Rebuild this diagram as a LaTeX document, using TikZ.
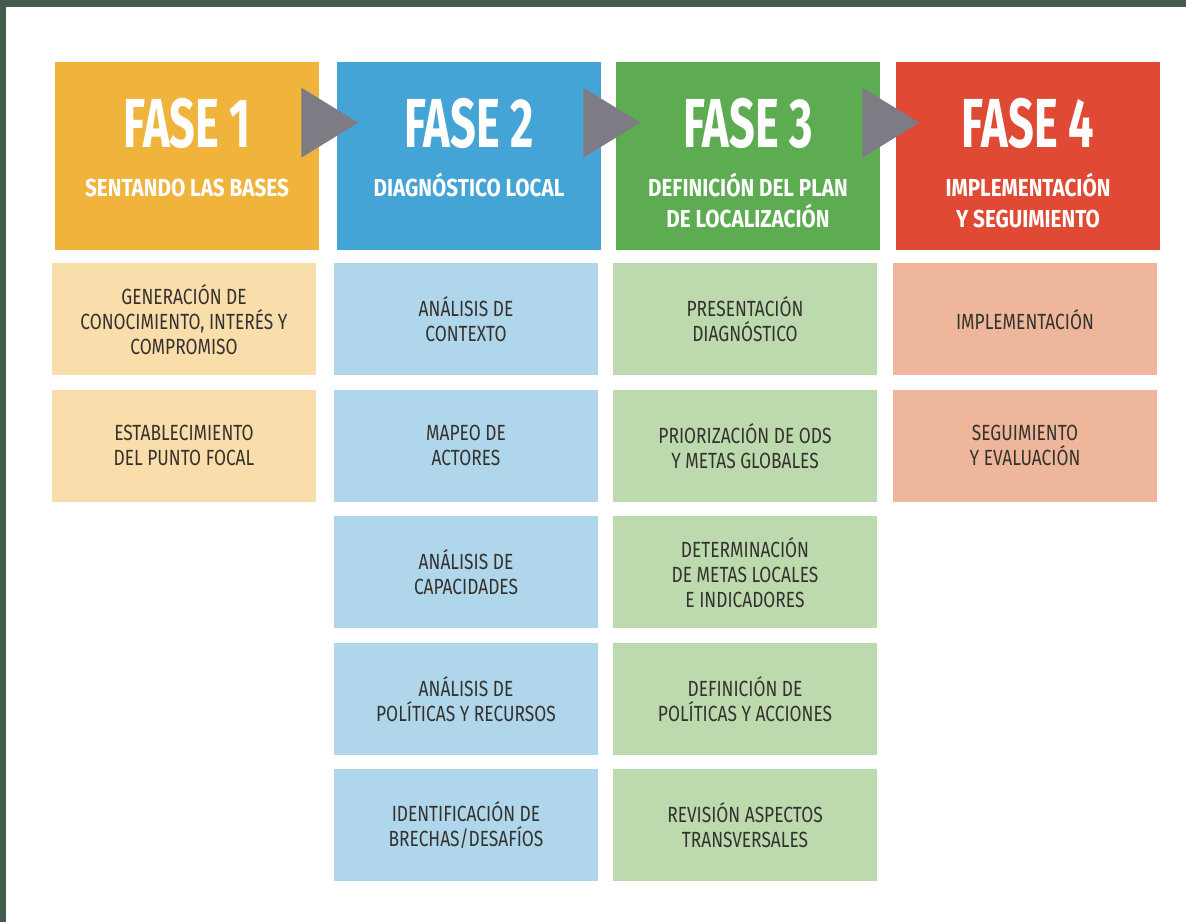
\documentclass[tikz,border=0pt]{standalone}
\usepackage{fontspec}
\setmainfont{Fira Sans}
\newfontfamily\titlefont[FakeStretch=0.65]{Fira Sans}
\newfontfamily\subtitlefont[FakeStretch=0.84]{Fira Sans}
\newfontfamily\stepfont[FakeStretch=0.79]{Fira Sans}
\usepackage{tikz}
\usetikzlibrary{calc}
\definecolor{framegreen}{HTML}{425C4D}
\definecolor{fase1}{HTML}{F0B43D}
\definecolor{fase2}{HTML}{44A4D6}
\definecolor{fase3}{HTML}{5DAC52}
\definecolor{fase4}{HTML}{E04A35}
\definecolor{fase1light}{HTML}{F9DDAB}
\definecolor{fase2light}{HTML}{B0D6EB}
\definecolor{fase3light}{HTML}{BDD9AE}
\definecolor{fase4light}{HTML}{EEB79C}
\definecolor{arrowgray}{HTML}{7D7C84}
\definecolor{steptext}{HTML}{34322E}
\tikzset{
  phasebox/.style={minimum width=5.28cm, minimum height=3.76cm, inner sep=0pt},
  phasetitle/.style={text=white, inner sep=0pt, anchor=base,
    font=\titlefont\bfseries\fontsize{39.5}{40}\selectfont},
  phasesub/.style={text=white, inner sep=0pt, anchor=north, align=center,
    font=\subtitlefont\bfseries\fontsize{14}{17.6}\selectfont,
    execute at begin node=\vphantom{Ó}},
  stepbox/.style={minimum width=5.28cm, minimum height=2.24cm, inner sep=0pt,
    align=center, text=steptext, font=\stepfont\fontsize{12.5}{14.2}\selectfont},
}

\begin{document}
\begin{tikzpicture}[x=0.02cm,y=-0.02cm]
\useasboundingbox (0,0) rectangle (1186,922);
% frame
\fill[framegreen] (0,0) rectangle (1186,7);
\fill[framegreen] (0,0) rectangle (6,922);

% phase headers
\foreach \i/\xc/\sub in {1/187/{SENTANDO LAS BASES},
    2/469/{DIAGNÓSTICO LOCAL},
    3/748/{DEFINICIÓN DEL PLAN\\DE LOCALIZACIÓN},
    4/1028/{IMPLEMENTACIÓN\\Y SEGUIMIENTO}} {
  \node[phasebox, fill=fase\i] (fase\i) at (\xc,156) {};
  \node[phasetitle] (title\i) at ($(fase\i.north)+(0,86)$) {FASE \i};
  \node[phasesub] (sub\i) at ($(fase\i.north)+(0,111)$) {\sub};
}

% arrows between phases
\foreach \i in {1,2,3} {
  \fill[arrowgray] ($(fase\i.north east)+(-18,26)$) -- ($(fase\i.north east)+(-18,96)$)
    -- ($(fase\i.north east)+(39,61)$) -- cycle;
}

% steps
\foreach \txt [count=\r] in {{GENERACIÓN DE\\CONOCIMIENTO, INTERÉS Y\\COMPROMISO},
    {ESTABLECIMIENTO\\DEL PUNTO FOCAL}}
  \node[stepbox, fill=fase1light] (f1s\r) at ($(fase1.south)+(-3,{69+126.5*(\r-1)})$) {\txt};
\foreach \txt [count=\r] in {{ANÁLISIS DE\\CONTEXTO}, {MAPEO DE\\ACTORES},
    {ANÁLISIS DE\\CAPACIDADES}, {ANÁLISIS DE\\POLÍTICAS Y RECURSOS},
    {IDENTIFICACIÓN DE\\BRECHAS/DESAFÍOS}}
  \node[stepbox, fill=fase2light] (f2s\r) at ($(fase2.south)+(-3,{69+126.5*(\r-1)})$) {\txt};
\foreach \txt [count=\r] in {{PRESENTACIÓN\\DIAGNÓSTICO}, {PRIORIZACIÓN DE ODS\\Y METAS GLOBALES},
    {DETERMINACIÓN\\DE METAS LOCALES\\E INDICADORES}, {DEFINICIÓN DE\\POLÍTICAS Y ACCIONES},
    {REVISIÓN ASPECTOS\\TRANSVERSALES}}
  \node[stepbox, fill=fase3light] (f3s\r) at ($(fase3.south)+(-3,{69+126.5*(\r-1)})$) {\txt};
\foreach \txt [count=\r] in {{IMPLEMENTACIÓN}, {SEGUIMIENTO\\Y EVALUACIÓN}}
  \node[stepbox, fill=fase4light] (f4s\r) at ($(fase4.south)+(-3,{69+126.5*(\r-1)})$) {\txt};
\end{tikzpicture}
\end{document}
